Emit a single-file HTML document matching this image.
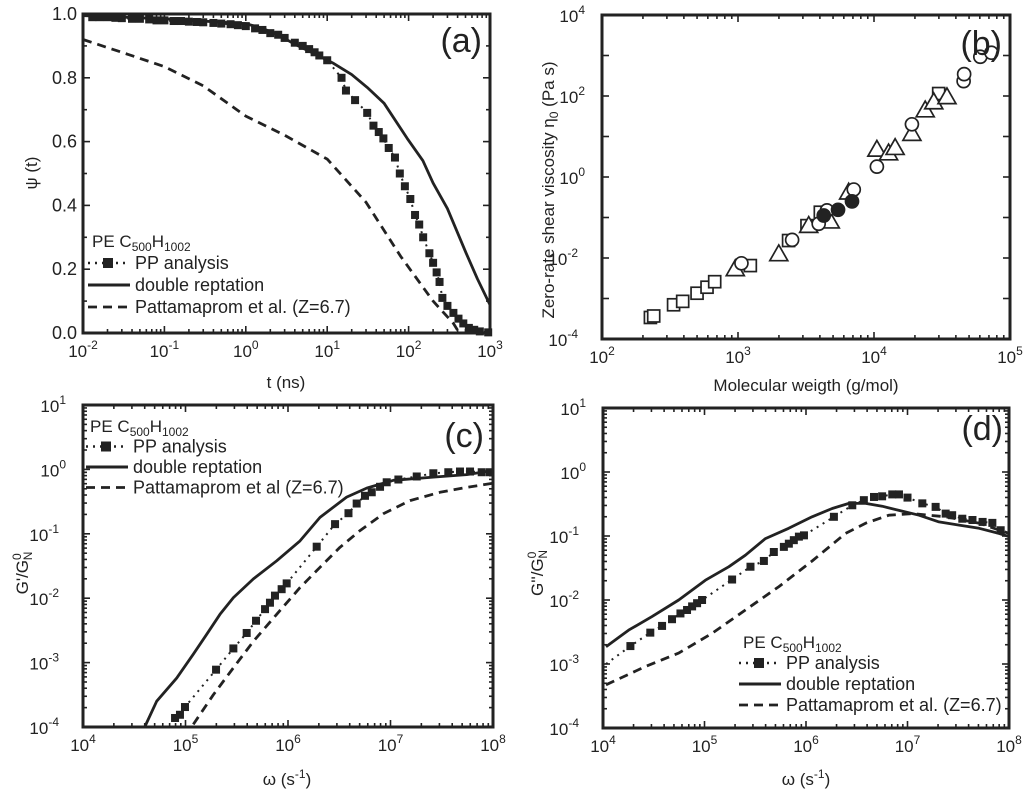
<!DOCTYPE html>
<html><head><meta charset="utf-8">
<style>
html,body{margin:0;padding:0;background:#fff;}
svg{display:block;font-family:"Liberation Sans",sans-serif;}
</style></head>
<body>
<svg id="fig" width="1024" height="797" viewBox="0 0 1024 797" xmlns="http://www.w3.org/2000/svg"></svg>
<script>
// ---------- Panel (a) data: t (ns), psi ----------
const aSqT   = [0.013,0.016,0.02,0.025,0.03,0.04,0.05,0.065,0.08,0.1,0.13,0.16,0.2,0.25,0.3,0.4,0.5,0.65,0.8,1,1.3,1.6,2,2.5,3,4,5,6,7,8,10,15,17,22,31,37,43,49,57,68,78,90,105,120,135,151,180,200,221,240,260,300,355,410,470,550,640,750,950];
const aSqPsi = [0.99,0.99,0.99,0.988,0.987,0.985,0.985,0.983,0.98,0.98,0.978,0.978,0.976,0.975,0.974,0.972,0.97,0.968,0.965,0.962,0.955,0.95,0.94,0.935,0.925,0.91,0.9,0.89,0.88,0.87,0.855,0.80,0.76,0.73,0.69,0.65,0.63,0.61,0.58,0.55,0.50,0.46,0.42,0.37,0.34,0.30,0.25,0.22,0.19,0.16,0.11,0.085,0.063,0.045,0.03,0.016,0.01,0.005,0.002];
const aSolT   = [0.01,0.1,1,1.6,2.5,4,7,12,20,31,50,96,150,200,300,510,700,1000];
const aSolPsi = [0.995,0.985,0.97,0.955,0.935,0.905,0.875,0.845,0.81,0.77,0.72,0.61,0.54,0.47,0.39,0.25,0.17,0.088];
const aDashT   = [0.01,0.03,0.1,0.3,1,3,10,30,80,200,355,420];
const aDashPsi = [0.92,0.88,0.835,0.775,0.68,0.62,0.545,0.41,0.24,0.10,0.03,0.0];
const aXTicks = ["-2","-1","0","1","2","3"];
const aYTicks = ["0.0","0.2","0.4","0.6","0.8","1.0"];

// ---------- Panel (b) data: M (g/mol), eta0 (Pa s) ----------
const bSqM   = [227,240,336,392,500,592,674,1232,2355,3215,4030,29900];
const bSqEta = [3.4e-4,3.7e-4,7.0e-4,8.5e-4,1.35e-3,1.9e-3,2.6e-3,6.5e-3,0.027,0.063,0.135,115];
const bTriM   = [955,1995,3310,4770,6510,10500,12800,14300,19000,23800,27500,34400];
const bTriEta = [5.4e-3,0.0126,0.063,0.081,0.42,4.8,3.9,5.3,11.8,45,71,95];
const bCirM   = [1060,2500,3920,4510,7100,10500,19000,45600,46000,60500,73000];
const bCirEta = [7.4e-3,0.028,0.07,0.15,0.49,1.8,20,233,347,930,1170];
const bFilM   = [4270,5440,6890];
const bFilEta = [0.112,0.155,0.25];
const bXTicks = ["2","3","4","5"];
const bYTicks = ["-4","-2","0","2","4"];

// ---------- Panel (c) data: log10(omega), log10(G'/GN0) ----------
const cSqLogW = [4.898,4.946,4.995,5.298,5.467,5.597,5.688,5.776,5.824,5.873,5.938,5.987,6.28,6.459,6.59,6.67,6.751,6.817,6.898,6.963,7.077,7.256,7.418,7.564,7.678,7.776,7.89,7.97];
const cSqLogG = [-3.86,-3.81,-3.69,-3.11,-2.78,-2.54,-2.35,-2.17,-2.07,-1.96,-1.86,-1.77,-1.2,-0.85,-0.68,-0.53,-0.41,-0.355,-0.27,-0.2,-0.157,-0.11,-0.06,-0.044,-0.033,-0.033,-0.044,-0.044];
const cSolLogW = [4.605,4.719,4.914,5.076,5.207,5.337,5.467,5.662,5.89,6.117,6.312,6.572,6.768,7.028,7.418,7.743,8.0];
const cSolLogG = [-3.99,-3.6,-3.24,-2.87,-2.56,-2.25,-1.99,-1.7,-1.42,-1.11,-0.745,-0.43,-0.29,-0.17,-0.12,-0.08,-0.017];
const cDashLogW = [5.076,5.271,5.467,5.662,5.89,6.117,6.312,6.507,6.702,6.93,7.19,7.483,7.743,8.0];
const cDashLogG = [-3.96,-3.5,-3.08,-2.67,-2.25,-1.835,-1.52,-1.21,-0.95,-0.69,-0.485,-0.355,-0.28,-0.215];
const cXTicks = ["4","5","6","7","8"];
const cYTicks = ["-4","-3","-2","-1","0","1"];

// ---------- Panel (d) data: log10(omega), log10(G''/GN0) ----------
const dSqLogW = [4.27,4.466,4.582,4.68,4.763,4.828,4.878,4.927,4.976,5.272,5.453,5.585,5.683,5.782,5.831,5.88,5.93,5.98,6.275,6.456,6.57,6.67,6.75,6.85,6.916,7.0,7.146,7.277,7.376,7.44,7.54,7.64,7.74,7.836,7.918];
const dSqLogG = [-2.72,-2.51,-2.405,-2.30,-2.21,-2.156,-2.10,-2.05,-2.0,-1.68,-1.48,-1.39,-1.25,-1.17,-1.12,-1.065,-1.01,-0.99,-0.70,-0.52,-0.44,-0.39,-0.38,-0.35,-0.35,-0.40,-0.49,-0.545,-0.65,-0.675,-0.73,-0.75,-0.78,-0.795,-0.91];
const dDotLogW = [4.03];
const dDotLogG = [-3.0];
const dSolLogW = [4.03,4.253,4.483,4.746,5.009,5.24,5.403,5.6,5.83,6.06,6.258,6.423,6.587,6.75,6.916,7.113,7.31,7.508,7.705,7.9,8.0];
const dSolLogG = [-2.73,-2.47,-2.26,-2.0,-1.69,-1.48,-1.30,-1.04,-0.88,-0.70,-0.57,-0.49,-0.49,-0.535,-0.60,-0.675,-0.78,-0.83,-0.88,-0.96,-1.01];
const dDashLogW = [4.03,4.417,4.746,5.075,5.403,5.733,6.06,6.39,6.587,6.817,7.047,7.376,7.705,8.0];
const dDashLogG = [-3.325,-3.04,-2.83,-2.52,-2.156,-1.79,-1.39,-0.96,-0.80,-0.675,-0.65,-0.70,-0.80,-0.96];
const dXTicks = ["4","5","6","7","8"];
const dYTicks = ["-4","-3","-2","-1","0","1"];

const NS="http://www.w3.org/2000/svg";
const fig=document.getElementById('fig');
function mk(tag,attrs,parent){const e=document.createElementNS(NS,tag);for(const k in attrs)e.setAttribute(k,attrs[k]);(parent||fig).appendChild(e);return e;}
function lin(d0,d1,p0,p1){return v=>p0+(v-d0)/(d1-d0)*(p1-p0);}
const log10=Math.log10;

function frame(g,L,T,R,B){
  const r=mk('rect',{x:L,y:T,width:R-L,height:B-T,fill:'none',stroke:'#222','stroke-width':3},g);
  
  
}
function tick(g,x1,y1,x2,y2){mk('line',{x1:x1,y1:y1,x2:x2,y2:y2,stroke:'#222','stroke-width':1.6},g);}
function logXTicks(g,sx,lo,hi,L,T,R,B,labels,minor){
  for(let e=lo;e<=hi;e++){
    const x=sx(e);
    tick(g,x,B,x,B-7);tick(g,x,T,x,T+7);
    if(e<hi&&minor)for(let m=2;m<=9;m++){const xm=sx(e+log10(m));tick(g,xm,B,xm,B-4);tick(g,xm,T,xm,T+4);}
  }
  labels.forEach(s=>{
    const x=sx(+s);
    const t=mk('text',{x:x,y:B+24,'text-anchor':'middle','font-size':17,fill:'#222'},g);
    
    
    t.textContent='10';const sp=mk('tspan',{dy:-8,'font-size':12},t);sp.textContent=s;
  });
}
function logYTicks(g,sy,lo,hi,L,T,R,B,labels,minor){
  for(let e=lo;e<=hi;e++){
    const y=sy(e);
    tick(g,L,y,L+7,y);tick(g,R,y,R-7,y);
    if(e<hi&&minor)for(let m=2;m<=9;m++){const ym=sy(e+log10(m));tick(g,L,ym,L+4,ym);tick(g,R,ym,R-4,ym);}
  }
  labels.forEach(s=>{
    const y=sy(+s);
    const t=mk('text',{x:L-24,y:y+7,'text-anchor':'end','font-size':17,fill:'#222'},g);
    
    
    t.textContent='10';
    const sp=mk('tspan',{dy:-8,'font-size':12},t);sp.textContent=s;
    if(s.length==1) t.setAttribute('x',L-17);
  });
}
function path(g,xs,ys,sx,sy,dash,w,name){
  const d=xs.map((v,i)=>(i?'L':'M')+sx(v).toFixed(1)+','+sy(ys[i]).toFixed(1)).join('');
  const p=mk('path',{d:d,fill:'none',stroke:'#222','stroke-width':w||2.5,'stroke-dasharray':dash||'none','stroke-linejoin':'round'},g);
  
  
}
function squares(g,xs,ys,sx,sy,s,filled,name){
  xs.forEach((v,i)=>{const r=mk('rect',{x:sx(v)-s/2,y:sy(ys[i])-s/2,width:s,height:s,fill:filled?'#222':'#fff',stroke:'#222','stroke-width':filled?0:1.7},g);
    
    });
}
function circles(g,xs,ys,sx,sy,r0,filled,name){
  xs.forEach((v,i)=>{const c=mk('circle',{cx:sx(v),cy:sy(ys[i]),r:r0,fill:filled?'#222':'#fff',stroke:'#222','stroke-width':1.7},g);
    
    });
}
function triangles(g,xs,ys,sx,sy,s,name){
  xs.forEach((v,i)=>{const x=sx(v),y=sy(ys[i]);
    const p=mk('polygon',{points:`${x},${y-s*0.6} ${x-s*0.6},${y+s*0.45} ${x+s*0.6},${y+s*0.45}`,fill:'#fff',stroke:'#222','stroke-width':1.7},g);
    
    });
}
function text(g,x,y,str,size,anchor,name,rot){
  const t=mk('text',{x:x,y:y,'font-size':size,'text-anchor':anchor||'start',fill:'#222'},g);
  if(rot)t.setAttribute('transform',`rotate(-90 ${x} ${y})`);
  
  
  t.innerHTML=str;return t;
}
const PE='PE C<tspan dy="4" font-size="12">500</tspan><tspan dy="-4">H</tspan><tspan dy="4" font-size="12">1002</tspan>';
function legend(g,x,y0,gap,labels){
  text(g,x+4,y0,PE,17,'start','legend-title');
  const ys=[y0+gap,y0+2*gap,y0+3*gap];
  const styles=[['2,5',2.5],[null,3],['9,6',2.8]];
  ys.forEach((y,i)=>{
    const l=mk('line',{x1:x,y1:y-6,x2:x+42,y2:y-6,stroke:'#222','stroke-width':styles[i][1],'stroke-dasharray':styles[i][0]||'none'},g);
    
    
    if(i==0){const r=mk('rect',{x:x+15,y:y-11,width:10,height:10,fill:'#222'},g);}
    text(g,x+47,y,labels[i],18,'start','legend-entry');
  });
}

// ===== Panel (a) =====
(function(){
  const g=mk('g',{});
  const L=83,R=490,T=14,B=333;
  const sx=lin(-2,3,L,R), sy=lin(0,1,B,T);
  const fx=v=>sx(log10(v));
  logXTicks(g,sx,-2,3,L,T,R,B,aXTicks,true);
  for(let i=0;i<=10;i++){const y=sy(i/10),len=i%2?4:7;tick(g,L,y,L+len,y);tick(g,R,y,R-len,y);}
  aYTicks.forEach(s=>text(g,L-6,sy(+s)+6,s,18,'end','y-tick-label'));
  path(g,aDashT,aDashPsi,fx,sy,'9,6',2.8,'pattamaprom-curve');
  path(g,aSolT,aSolPsi,fx,sy,null,2.8,'double-reptation-curve');
  path(g,aSqT,aSqPsi,fx,sy,'2,5',2,'pp-analysis-line');
  squares(g,aSqT,aSqPsi,fx,sy,8,true,'pp-analysis-point');
  frame(g,L,T,R,B);
  text(g,286,388,'t (ns)',17,'middle','x-axis-title');
  text(g,37,173,'ψ (t)',17,'middle','y-axis-title',true);
  text(g,482,52,'(a)',34,'end','panel-label');
  legend(g,88,247,22,['PP analysis','double reptation','Pattamaprom et al. (Z=6.7)']);
})();

// ===== Panel (b) =====
(function(){
  const g=mk('g',{});
  const L=602,R=1010,T=15,B=339;
  const sx=lin(2,5,L,R), sy=lin(-4,4,B,T);
  const fx=v=>sx(log10(v)), fy=v=>sy(log10(v));
  logXTicks(g,sx,2,5,L,T,R,B,bXTicks,true);
  logYTicks(g,sy,-4,4,L,T,R,B,bYTicks,false);
  squares(g,bSqM,bSqEta,fx,fy,12,false,'square-point');
  triangles(g,bTriM,bTriEta,fx,fy,15,'triangle-point');
  circles(g,bCirM,bCirEta,fx,fy,6.5,false,'open-circle-point');
  circles(g,bFilM,bFilEta,fx,fy,6.5,true,'filled-circle-point');
  frame(g,L,T,R,B);
  text(g,806,391,'Molecular weigth (g/mol)',17,'middle','x-axis-title');
  text(g,554,190,'Zero-rate shear viscosity η<tspan dy="4" font-size="12">0</tspan><tspan dy="-4"> (Pa s)</tspan>',17,'middle','y-axis-title',true);
  text(g,1002,55,'(b)',34,'end','panel-label');
})();

// ===== Panel (c) =====
(function(){
  const g=mk('g',{});
  const L=83,R=493,T=405,B=727;
  const sx=lin(4,8,L,R), sy=lin(-4,1,B,T);
  logXTicks(g,sx,4,8,L,T,R,B,cXTicks,true);
  logYTicks(g,sy,-4,1,L,T,R,B,cYTicks,true);
  const clip=mk('clipPath',{id:'clipc'},g);mk('rect',{x:L,y:T,width:R-L,height:B-T},clip);
  const gc=mk('g',{'clip-path':'url(#clipc)'},g);
  path(gc,cDashLogW,cDashLogG,sx,sy,'9,6',2.8,'pattamaprom-curve');
  path(gc,cSolLogW,cSolLogG,sx,sy,null,2.8,'double-reptation-curve');
  path(gc,cSqLogW,cSqLogG,sx,sy,'2,5',2,'pp-analysis-line');
  squares(gc,cSqLogW,cSqLogG,sx,sy,8,true,'pp-analysis-point');
  frame(g,L,T,R,B);
  text(g,287,785,'ω (s<tspan dy="-7" font-size="12">-1</tspan><tspan dy="7">)</tspan>',17,'middle','x-axis-title');
  text(g,28,573,'G\'/G<tspan dy="-7" font-size="12">0</tspan><tspan dy="11" dx="-7" font-size="12">N</tspan>',17,'middle','y-axis-title',true);
  text(g,484,447,'(c)',34,'end','panel-label');
  legend(g,86,432,20.5,['PP analysis','double reptation','Pattamaprom et al (Z=6.7)']);
})();

// ===== Panel (d) =====
(function(){
  const g=mk('g',{});
  const L=603,R=1009,T=408,B=728;
  const sx=lin(4,8,L,R), sy=lin(-4,1,B,T);
  logXTicks(g,sx,4,8,L,T,R,B,dXTicks,true);
  logYTicks(g,sy,-4,1,L,T,R,B,dYTicks,true);
  path(g,dDashLogW,dDashLogG,sx,sy,'9,6',2.8,'pattamaprom-curve');
  path(g,dSolLogW,dSolLogG,sx,sy,null,2.8,'double-reptation-curve');
  path(g,dDotLogW.concat(dSqLogW),dDotLogG.concat(dSqLogG),sx,sy,'2,5',2,'pp-analysis-line');
  squares(g,dSqLogW,dSqLogG,sx,sy,8,true,'pp-analysis-point');
  frame(g,L,T,R,B);
  text(g,806,785,'ω (s<tspan dy="-7" font-size="12">-1</tspan><tspan dy="7">)</tspan>',17,'middle','x-axis-title');
  text(g,543,573,'G\'\'/G<tspan dy="-7" font-size="12">0</tspan><tspan dy="11" dx="-7" font-size="12">N</tspan>',17,'middle','y-axis-title',true);
  text(g,1003,440,'(d)',34,'end','panel-label');
  legend(g,739,648,21,['PP analysis','double reptation','Pattamaprom et al. (Z=6.7)']);
})();
</script>
</body></html>
